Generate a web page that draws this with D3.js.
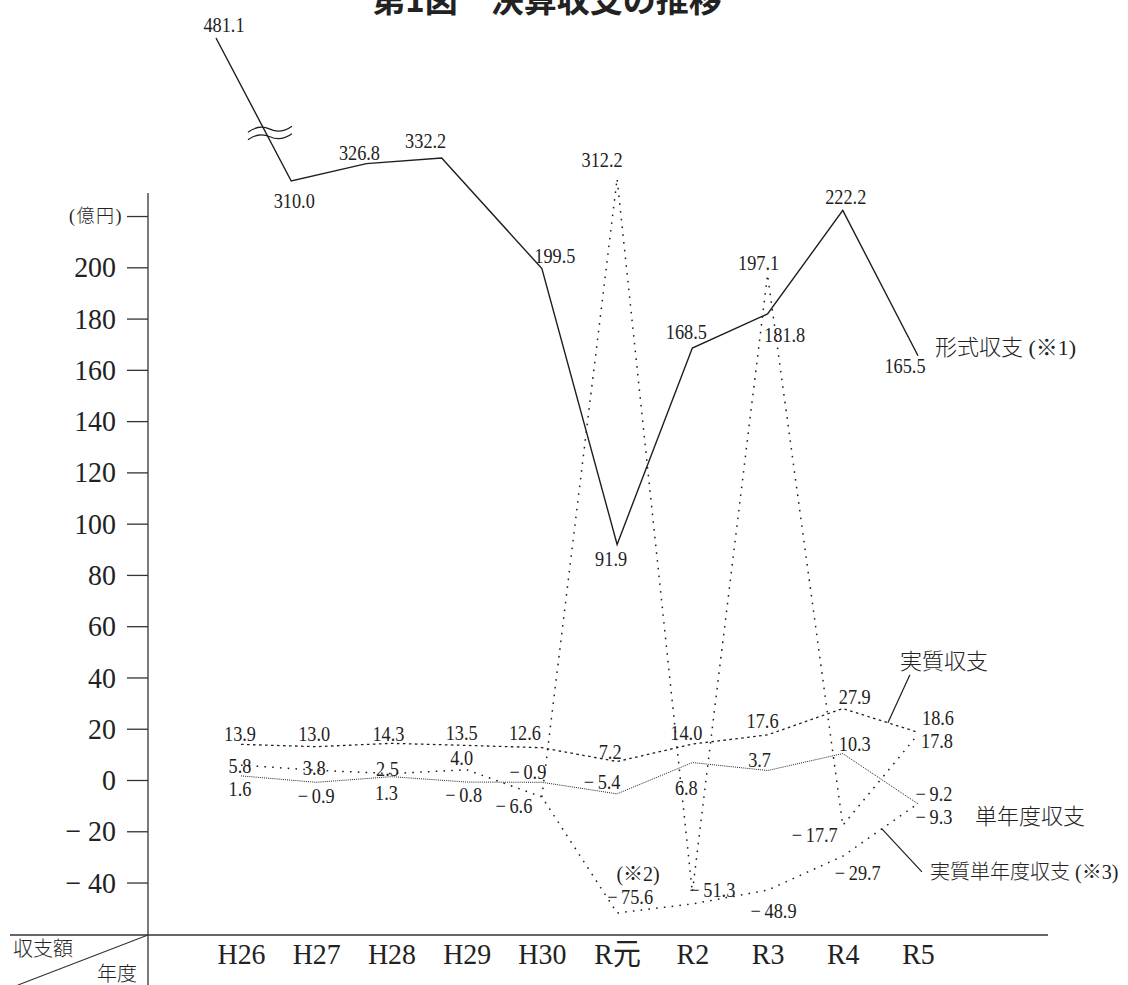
<!DOCTYPE html>
<html><head><meta charset="utf-8">
<script src="https://cdn.jsdelivr.net/npm/d3@7"></script>
<style>
html,body{margin:0;padding:0;background:#fff;}
svg{display:block;}
text{font-family:"Liberation Serif","Noto Sans CJK JP",serif;fill:#222;}
.jp{font-weight:300;}
</style></head><body>
<svg id="chart" width="1128" height="985"></svg>
<script>
// ---------------- DATA ----------------
const categories = ["H26","H27","H28","H29","H30","R元","R2","R3","R4","R5"];
const keishiki = [481.1,310.0,326.8,332.2,199.5,91.9,168.5,181.8,222.2,165.5];      // 形式収支
const jisshitsu = [13.9,13.0,14.3,13.5,12.6,7.2,14.0,17.6,27.9,18.6];               // 実質収支
const tannendo = [1.6,-0.9,1.3,-0.8,-0.9,-5.4,6.8,3.7,10.3,-9.3];                   // 単年度収支
const jisshitsuTannendo = [5.8,3.8,2.5,4.0,-6.6,-75.6,-65,-48.9,-29.7,-9.2];        // 実質単年度収支 (R2 unlabeled, estimated)
const spikeSeries = [null,null,null,null,-6.6,312.2,-51.3,197.1,-17.7,17.8];        // 点線系列
const yTicks = [-40,-20,0,20,40,60,80,100,120,140,160,180,200];
const unitTick = 220;
const yBreakDomain = [-75.6,-40,222.2,310,332.2,481.1];

// ---------------- LAYOUT ----------------
const W=1128,H=985;
const X_FIRST=241, X_LAST=918;
const ZERO_Y=780, PX=2.5635;
const AXIS_X=148, AXIS_TOP=193, BASE_Y=935;
const svg=d3.select("#chart");
const x=d3.scalePoint().domain(categories).range([X_FIRST,X_LAST]);
const y=d3.scaleLinear().domain(yBreakDomain)
  .range([913, ZERO_Y+40*PX, ZERO_Y-222.2*PX, 181, 158, 38]);
const INK="#1e1e1e";
const BREAK_VALUE=300, UPPER_SHIFT=-25;

function fmtVal(v){return v<0?"\u2212\u2009"+Math.abs(v).toFixed(1):v.toFixed(1);}
function fmtTick(v){return v<0?"\u2212 "+Math.abs(v):String(v);}
function condense(sel,f){sel.each(function(){const L=this.getComputedTextLength();d3.select(this).attr("textLength",L*f).attr("lengthAdjust","spacingAndGlyphs");});}

// title (cut off at top)
svg.append("text").attr("x",547).attr("y",12).attr("text-anchor","middle")
  .style("font-family","'Noto Sans CJK JP'").attr("font-weight","bold").attr("font-size",33)
  .text("第1図　決算収支の推移");

// axes
svg.append("line").attr("x1",AXIS_X).attr("x2",AXIS_X).attr("y1",AXIS_TOP).attr("y2",H)
  .attr("stroke","#333").attr("stroke-width",1.3);
svg.append("line").attr("x1",10).attr("x2",1048).attr("y1",BASE_Y).attr("y2",BASE_Y)
  .attr("stroke","#333").attr("stroke-width",1.3);
svg.append("line").attr("x1",AXIS_X).attr("y1",BASE_Y).attr("x2",18).attr("y2",H)
  .attr("stroke","#333").attr("stroke-width",1.1);
svg.append("text").attr("class","jp").attr("x",13).attr("y",949).attr("dominant-baseline","central").attr("font-size",20).text("収支額");
svg.append("text").attr("class","jp").attr("x",97).attr("y",974).attr("dominant-baseline","central").attr("font-size",20).text("年度");

const yAxis=d3.axisLeft(y).tickValues([...yTicks,unitTick]).tickSize(21).tickPadding(11)
  .tickFormat(d=>d===unitTick?"(億円)":fmtTick(d));
const gY=svg.append("g").attr("transform",`translate(${AXIS_X},0)`).call(yAxis);
gY.attr("font-family",null).attr("font-size",null);
gY.select(".domain").remove();
gY.selectAll(".tick line").attr("stroke","#333").attr("stroke-width",1.3);
gY.selectAll(".tick text").attr("font-size",30);
condense(gY.selectAll(".tick text").filter(d=>d!==unitTick),0.93);
gY.selectAll(".tick text").filter(d=>d===unitTick).attr("class","jp").attr("font-size",18).attr("x",-25).attr("letter-spacing",1.5);

const xAxis=d3.axisBottom(x).tickSize(0).tickPadding(8);
const gX=svg.append("g").attr("transform",`translate(0,${BASE_Y})`).call(xAxis);
gX.attr("font-family",null).attr("font-size",null);
gX.select(".domain").remove();
gX.selectAll(".tick text").attr("font-size",30);
condense(gX.selectAll(".tick text"),0.93);

// ---------------- SERIES ----------------
const series=[
 {key:"keishiki",values:keishiki,dash:null,width:1.4,shiftUpper:true,
  labels:[[8,-6],[3,27],[-7,-4],[-16,-10],[13,-6],[-6,22],[-6,-9],[17,28],[3,-6],[-13,17]]},
 {key:"jisshitsu",values:jisshitsu,dash:"2.6,3.4",width:1.3,
  labels:[[-1,-3],[-2,-6],[-3,-2],[-5,-5],[-17,-8],[-7,-3],[-6,-4],[-5,-7],[12,-4],[20,-7]]},
 {key:"tannendo",values:tannendo,dash:"1,1.1",width:1.0,
  labels:[[-1,20],[0,21],[-5,23],[-3,20],[-14,-3],[-15,-5],[-6,32],[-8,-4],[12,-3],[16,20]]},
 {key:"jtannendo",values:jisshitsuTannendo,dash:"1.6,6.2",width:1.5,
  labels:[[-1,8],[-2,5],[-4,2],[-5,-5],[-28,16],[13,-9],null,[6,28],[15,24],[16,-3]]},
 {key:"spike",values:spikeSeries,dash:"1.6,6.2",width:1.5,
  labels:[null,null,null,null,null,[-15,-12],[20,5],[-9,-5],[-28,17],[19,14]]}
];

function px(s,i,v){return x(categories[i])+((s.shiftUpper&&v>BREAK_VALUE)?UPPER_SHIFT:0);}

const line=d3.line().defined(d=>d.v!=null).x(d=>d.x).y(d=>y(d.v));
series.forEach(s=>{
  const pts=s.values.map((v,i)=>({v,x:px(s,i,v),i}));
  s.pts=pts;
  svg.append("path").datum(pts).attr("d",line).attr("fill","none")
    .attr("stroke",INK).attr("stroke-width",s.width)
    .attr("stroke-dasharray",s.dash).attr("stroke-linejoin","miter");
});

// break mark on 形式収支 first segment
(function(){
  const s=series[0]; const a=s.pts[0], b=s.pts[1];
  const t=0.664; const cx=a.x+(b.x-a.x)*t, cy=y(a.v)+(y(b.v)-y(a.v))*t;
  const g=svg.append("g").attr("transform",`translate(${cx+4},${cy})`);
  [-3.8,3.8].forEach(o=>{
    g.append("path").attr("d",`M-22,${o+3} Q-11,${o-5} 0,${o} T22,${o-3}`)
      .attr("fill","none").attr("stroke",INK).attr("stroke-width",1.2);
  });
})();

// value labels
series.forEach(s=>{
  s.pts.forEach((p,i)=>{
    const off=s.labels[i]; if(!off||p.v==null) return;
    const t=svg.append("text").attr("x",p.x+off[0]).attr("y",y(p.v)+off[1])
      .attr("text-anchor","middle").attr("font-size",21).text(fmtVal(p.v));
    condense(t,0.87);
  });
});

// note (※2)
{
  const i=categories.indexOf("R元");
  svg.append("text").attr("x",x(categories[i])+21).attr("y",y(jisshitsuTannendo[i])-32)
    .attr("text-anchor","middle").attr("font-size",20).text("(※2)");
}

// series names & leader lines
function segPoint(vals,i0,t){const xa=x(categories[i0]),xb=x(categories[i0+1]);
  return [xa+(xb-xa)*t, y(vals[i0])+(y(vals[i0+1])-y(vals[i0]))*t];}
const iR4=categories.indexOf("R4");
{
  const [ex,ey]=segPoint(jisshitsu,iR4,0.6);
  svg.append("line").attr("x1",ex).attr("y1",ey).attr("x2",ex+22).attr("y2",ey-48)
    .attr("stroke",INK).attr("stroke-width",1.2);
  const [fx,fy]=segPoint(jisshitsuTannendo,iR4,0.52);
  svg.append("line").attr("x1",fx).attr("y1",fy).attr("x2",fx+40).attr("y2",fy+43)
    .attr("stroke",INK).attr("stroke-width",1.2);
}
const names=[
  {t:"形式収支 (※1)",x:935,y:347,fs:22},
  {t:"実質収支",x:900,y:661,fs:22},
  {t:"単年度収支",x:975,y:816,fs:22},
  {t:"実質単年度収支 (※3)",x:930,y:872,fs:20}
];
names.forEach(n=>svg.append("text").attr("class","jp").attr("x",n.x).attr("y",n.y).attr("dominant-baseline","central")
  .attr("font-size",n.fs).text(n.t));
</script>
</body></html>
